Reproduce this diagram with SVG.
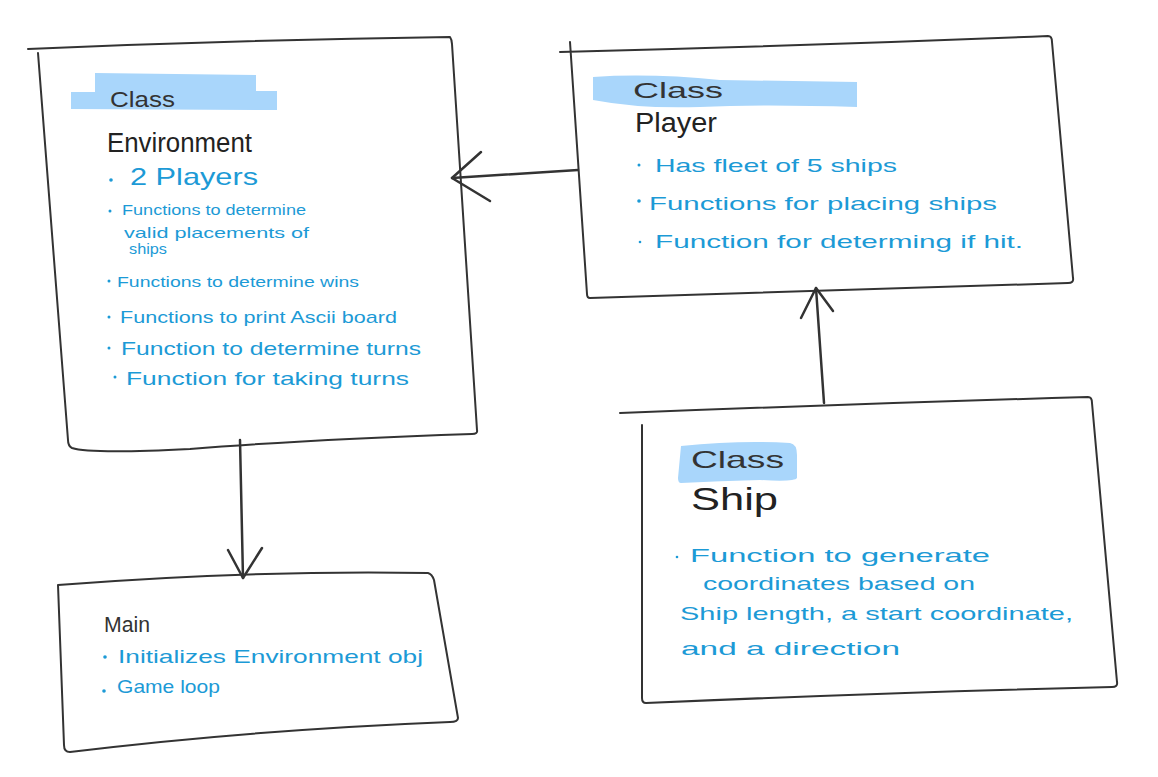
<svg xmlns="http://www.w3.org/2000/svg" width="1158" height="777" viewBox="0 0 1158 777">
<defs>
<style>
.box{fill:none;stroke:#333;stroke-width:2;stroke-linecap:round;stroke-linejoin:round}
.hl{fill:#a9d6fb}
.cls{font-family:"Liberation Sans",Arial,sans-serif;fill:#333;font-size:22px}
.name{font-family:"Liberation Sans",Arial,sans-serif;fill:#222;font-size:27px}
.item{font-family:"Liberation Sans",Arial,sans-serif;fill:#1c9ad6;font-size:19px}
.sm{font-size:15px}
.dot{fill:#1c9ad6}
.conn{fill:none;stroke:#333;stroke-width:2.5;stroke-linecap:round;stroke-linejoin:round}
</style>
</defs>
<rect width="1158" height="777" fill="#fff"/>
<g id="connectors">
<path class="conn" d="M578 170 L452 178"/>
<path class="conn" d="M481 152 L452 178 L490 201"/>
<path class="conn" d="M824 403 L816 288"/>
<path class="conn" d="M801 318 L816 288 L833 311"/>
<path class="conn" d="M240 440 L243 578"/>
<path class="conn" d="M228 550 L243 578 L262 548"/>
</g>
<g id="environment">
<path class="box" d="M28 49 Q240 40 450 37 Q452 40 452 44 L477 430 Q478 434 472 434 Q300 440 190 449 Q90 454 72 448 Q68 446 68 440 L38 53"/>
<path class="hl" d="M71 92 L95 92 L95 73 L256 75 L256 91 L277 91 L277 110 L71 109 Z"/>
<text class="cls" x="110" y="107" textLength="65" lengthAdjust="spacingAndGlyphs">Class</text>
<text class="name" x="107" y="152" textLength="145" lengthAdjust="spacingAndGlyphs">Environment</text>
<circle class="dot" cx="111" cy="180" r="1.8"/>
<text class="item" style="font-size:24px" x="130" y="185" textLength="128" lengthAdjust="spacingAndGlyphs">2 Players</text>
<circle class="dot" cx="110" cy="211" r="1.5"/>
<text class="item sm" x="122" y="215" textLength="184" lengthAdjust="spacingAndGlyphs">Functions to determine</text>
<text class="item sm" x="124" y="238" textLength="185" lengthAdjust="spacingAndGlyphs">valid placements of</text>
<text class="item sm" x="129" y="254" textLength="38" lengthAdjust="spacingAndGlyphs">ships</text>
<circle class="dot" cx="109" cy="281" r="1.5"/>
<text class="item sm" x="117" y="287" textLength="242" lengthAdjust="spacingAndGlyphs">Functions to determine wins</text>
<circle class="dot" cx="109" cy="317" r="1.5"/>
<text class="item" style="font-size:17px" x="120" y="323" textLength="277" lengthAdjust="spacingAndGlyphs">Functions to print Ascii board</text>
<circle class="dot" cx="109" cy="348" r="1.5"/>
<text class="item" x="121" y="355" textLength="300" lengthAdjust="spacingAndGlyphs">Function to determine turns</text>
<circle class="dot" cx="115" cy="377" r="1.5"/>
<text class="item" x="126" y="385" textLength="283" lengthAdjust="spacingAndGlyphs">Function for taking turns</text>
</g>
<g id="player">
<path class="box" d="M560 52 Q800 46 1048 36 Q1052 36 1052 42 L1073 278 Q1074 283 1068 283 Q850 290 590 298 Q587 298 587 294 L570 42"/>
<path class="hl" d="M593 77 Q650 73 720 80 L857 82 L857 107 Q760 104 700 107 Q640 109 593 100 Z"/>
<text class="cls" x="633" y="98" textLength="90" lengthAdjust="spacingAndGlyphs">Class</text>
<text class="name" x="635" y="132" textLength="82" lengthAdjust="spacingAndGlyphs">Player</text>
<circle class="dot" cx="639" cy="165" r="1.5"/>
<text class="item" x="655" y="172" textLength="242" lengthAdjust="spacingAndGlyphs">Has fleet of 5 ships</text>
<circle class="dot" cx="639" cy="201" r="1.8"/>
<text class="item" x="649" y="210" textLength="348" lengthAdjust="spacingAndGlyphs">Functions for placing ships</text>
<circle class="dot" cx="640" cy="242" r="1.3"/>
<text class="item" x="655" y="248" textLength="368" lengthAdjust="spacingAndGlyphs">Function for determing if hit.</text>
</g>
<g id="ship">
<path class="box" d="M620 413 Q850 404 1088 397 Q1092 397 1092 403 L1117 682 Q1118 687 1112 687 Q900 692 646 703 Q642 703 642 698 L642 425"/>
<path class="hl" d="M681 446 Q740 440 790 443 Q797 444 797 455 L797 478 Q795 482 760 480 Q720 481 681 483 Q678 483 678 478 Z"/>
<text class="cls" style="font-size:24px" x="691" y="468" textLength="93" lengthAdjust="spacingAndGlyphs">Class</text>
<text class="name" style="font-size:32px" x="691" y="510" textLength="87" lengthAdjust="spacingAndGlyphs">Ship</text>
<circle class="dot" cx="677" cy="557" r="1.3"/>
<text class="item" x="690" y="562" textLength="300" lengthAdjust="spacingAndGlyphs">Function to generate</text>
<text class="item" x="703" y="590" textLength="272" lengthAdjust="spacingAndGlyphs">coordinates based on</text>
<text class="item" x="680" y="620" textLength="393" lengthAdjust="spacingAndGlyphs">Ship length, a start coordinate,</text>
<text class="item" x="681" y="655" textLength="219" lengthAdjust="spacingAndGlyphs">and a direction</text>
</g>
<g id="main">
<path class="box" d="M58 585 Q250 570 428 573 Q432 574 434 580 L458 718 Q458 722 450 722 Q250 730 70 752 Q64 752 64 745 L58 585"/>
<text class="cls" x="104" y="632" textLength="46" lengthAdjust="spacingAndGlyphs">Main</text>
<circle class="dot" cx="105" cy="657" r="1.8"/>
<text class="item" x="118" y="663" textLength="305" lengthAdjust="spacingAndGlyphs">Initializes Environment obj</text>
<circle class="dot" cx="104" cy="691" r="1.8"/>
<text class="item" x="117" y="693" textLength="103" lengthAdjust="spacingAndGlyphs">Game loop</text>
</g>
</svg>
